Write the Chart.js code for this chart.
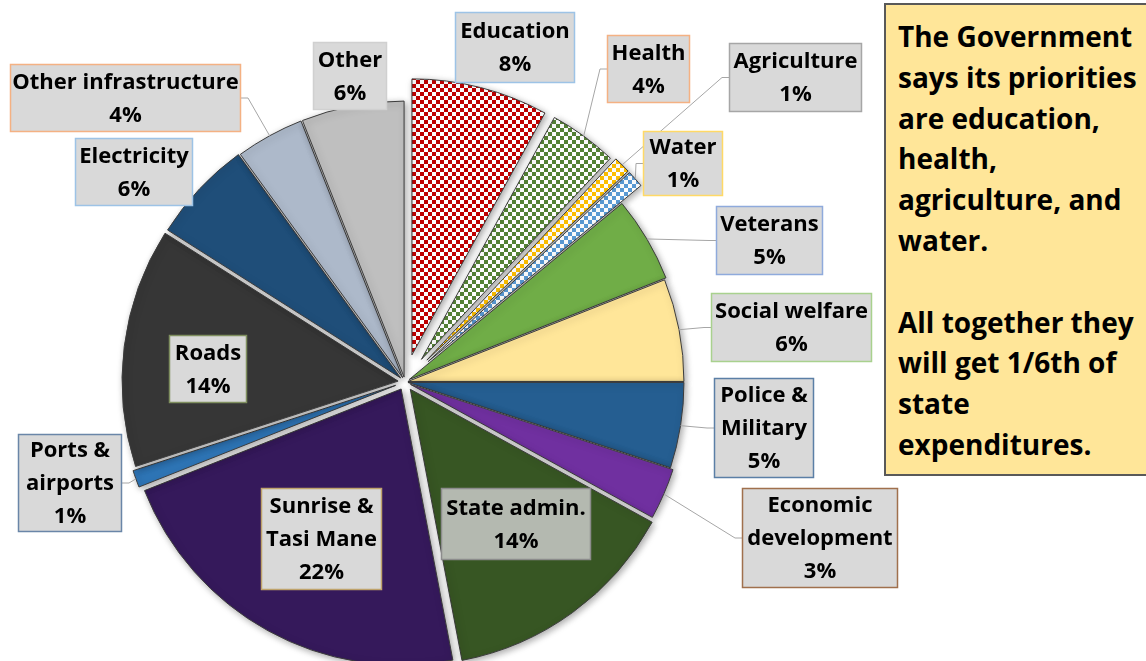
<!DOCTYPE html>
<html>
<head>
<meta charset="utf-8">
<title>State expenditures</title>
<script src="https://cdn.jsdelivr.net/npm/chart.js@4.4.0/dist/chart.umd.min.js"></script>
<style>
  html, body { margin: 0; padding: 0; background: #fff; overflow: hidden; }
  #wrap { position: relative; width: 1146px; height: 661px; }
  #note {
    position: absolute; left: 884px; top: 3px; width: 290px; height: 473px;
    box-sizing: border-box; background: #FFE699; border: 2px solid #595959;
    padding: 11px 0 0 12px;
    font: bold 28px "Open Sans", sans-serif; line-height: 40.8px; color: #000;
  }
</style>
</head>
<body>
<div id="wrap">
  <canvas id="pieChart"></canvas>
  <div id="note">
    The Government<br>says its priorities<br>are education,<br>health,<br>agriculture, and<br>water.<br><br>All together they<br>will get 1/6th of<br>state<br>expenditures.
  </div>
</div>
<script>
// Danh mục chi tiêu (theo chiều kim đồng hồ từ 12 giờ)
const categories = ['Education', 'Health', 'Agriculture', 'Water', 'Veterans', 'Social welfare',
  'Police &\nMilitary', 'Economic\ndevelopment', 'State admin.', 'Sunrise &\nTasi Mane',
  'Ports &\nairports', 'Roads', 'Electricity', 'Other infrastructure', 'Other'];
const shares = [8, 4, 1, 1, 5, 6, 5, 3, 14, 22, 1, 14, 6, 4, 6];

// Kiểu dáng từng lát
const sliceColors = [null, null, null, null, '#70AD47', '#FFE699', '#255E91', '#7030A0',
  '#375623', '#35195B', '#2E75B6', '#363636', '#1F4E79', '#ADB9CA', '#BFBFBF'];
const checkerColors = { 0: '#C00000', 1: '#548235', 2: '#FFC000', 3: '#5B9BD5' };
// khoảng tách lát ra khỏi tâm (px)
const explode = [28, 28, 31, 31, 5, 3, 3, 6, 9, 8, 10, 7, 6, 5, 5];

// Vị trí hộp nhãn: [x, y, w, h, viền, nền, phía đường dẫn]
const labelBoxes = [
  [455, 12, 120, 71, '#9DC3E6', '#D9D9D9', null],
  [607, 35, 83, 68, '#F4B183', '#D9D9D9', 'left'],
  [729, 43, 133, 69, '#A6A6A6', '#D9D9D9', 'left'],
  [643, 131, 80, 65, '#FFD966', '#D9D9D9', 'left'],
  [716, 206, 107, 69, '#8FAADC', '#D9D9D9', 'left'],
  [711, 293, 161, 69, '#A9D18E', '#D9D9D9', 'left'],
  [714, 378, 100, 100, '#5B7FA6', '#D9D9D9', 'left'],
  [742, 488, 156, 100, '#A0704D', '#D9D9D9', 'left'],
  [441, 488, 150, 72, '#8C8C8C', '#B4B9B0', null],
  [261, 488, 121, 102, '#BFA36B', '#D9D9D9', null],
  [18, 434, 104, 98, '#6A86A8', '#D9D9D9', 'right'],
  [169, 335, 78, 68, '#7F8F5F', '#D9D9D9', null],
  [75, 138, 118, 68, '#9DC3E6', '#D9D9D9', null],
  [10, 64, 231, 68, '#F4B183', '#D9D9D9', 'right'],
  [313, 42, 74, 68, '#D0D0D0', '#D9D9D9', null]
];

function makeChecker(color) {
  const c = document.createElement('canvas');
  c.width = 8; c.height = 8;
  const g = c.getContext('2d');
  g.fillStyle = '#FFFFFF';
  g.fillRect(0, 0, 8, 8);
  g.fillStyle = color;
  g.fillRect(0, 0, 4, 4);
  g.fillRect(4, 4, 4, 4);
  return g.createPattern(c, 'repeat');
}

const fills = sliceColors.map((c, i) => checkerColors[i] ? makeChecker(checkerColors[i]) : c);

// Tách lát: dời tâm từng cung theo hướng giữa cung, giữ nguyên bán kính
const explodePlugin = {
  id: 'explodeSlices',
  afterUpdate(chart) {
    chart.getDatasetMeta(0).data.forEach((arc, i) => {
      const mid = (arc.startAngle + arc.endAngle) / 2;
      arc.x += Math.cos(mid) * explode[i];
      arc.y += Math.sin(mid) * explode[i];
    });
  }
};

const shadowPlugin = {
  id: 'pieShadow',
  beforeDatasetsDraw(chart) {
    const ctx = chart.ctx;
    ctx.save();
    ctx.shadowColor = 'rgba(0,0,0,0.35)';
    ctx.shadowBlur = 7;
    ctx.shadowOffsetX = 2;
    ctx.shadowOffsetY = 2;
  },
  afterDatasetsDraw(chart) {
    chart.ctx.restore();
  }
};

const labelPlugin = {
  id: 'boxLabels',
  afterDraw(chart) {
    const ctx = chart.ctx;
    const arcs = chart.getDatasetMeta(0).data;
    ctx.save();
    labelBoxes.forEach((b, i) => {
      const [x, y, w, h, border, bg, side] = b;
      const arc = arcs[i];
      // đường dẫn từ hộp tới mép lát
      if (side) {
        const mid = (arc.startAngle + arc.endAngle) / 2;
        const ax = arc.x + Math.cos(mid) * arc.outerRadius;
        const ay = arc.y + Math.sin(mid) * arc.outerRadius;
        const sx = side === 'left' ? x : x + w;
        const sy = y + h / 2;
        const stub = side === 'left' ? sx - 7 : sx + 7;
        ctx.strokeStyle = '#A6A6A6';
        ctx.lineWidth = 1;
        ctx.beginPath();
        ctx.moveTo(sx, sy);
        ctx.lineTo(stub, sy);
        ctx.lineTo(ax, ay);
        ctx.stroke();
      }
      ctx.fillStyle = bg;
      ctx.fillRect(x, y, w, h);
      ctx.strokeStyle = border;
      ctx.lineWidth = 1.5;
      ctx.strokeRect(x + 0.5, y + 0.5, w - 1, h - 1);

      const lines = categories[i].split('\n').concat([shares[i] + '%']);
      const lh = 33;
      const top = y + h / 2 - (lines.length - 1) * lh / 2;
      ctx.fillStyle = '#000';
      ctx.font = 'bold 22px "Open Sans", sans-serif';
      ctx.textAlign = 'center';
      ctx.textBaseline = 'middle';
      lines.forEach((t, k) => ctx.fillText(t, x + w / 2, top + k * lh + 1));
    });
    ctx.restore();
  }
};

new Chart(document.getElementById('pieChart'), {
  type: 'pie',
  data: {
    labels: categories.map(c => c.replace('\n', ' ')),
    datasets: [{
      data: shares,
      backgroundColor: fills,
      borderColor: '#3C3C3C',
      borderWidth: 1,
      radius: 276,
      clip: false
    }]
  },
  options: {
    responsive: true,
    maintainAspectRatio: false,
    animation: false,
    layout: { padding: { left: 0, top: 103, right: 336, bottom: 0 } },
    plugins: {
      legend: { display: false },
      tooltip: { enabled: false }
    }
  },
  plugins: [explodePlugin, shadowPlugin, labelPlugin]
});
</script>
</body>
</html>
